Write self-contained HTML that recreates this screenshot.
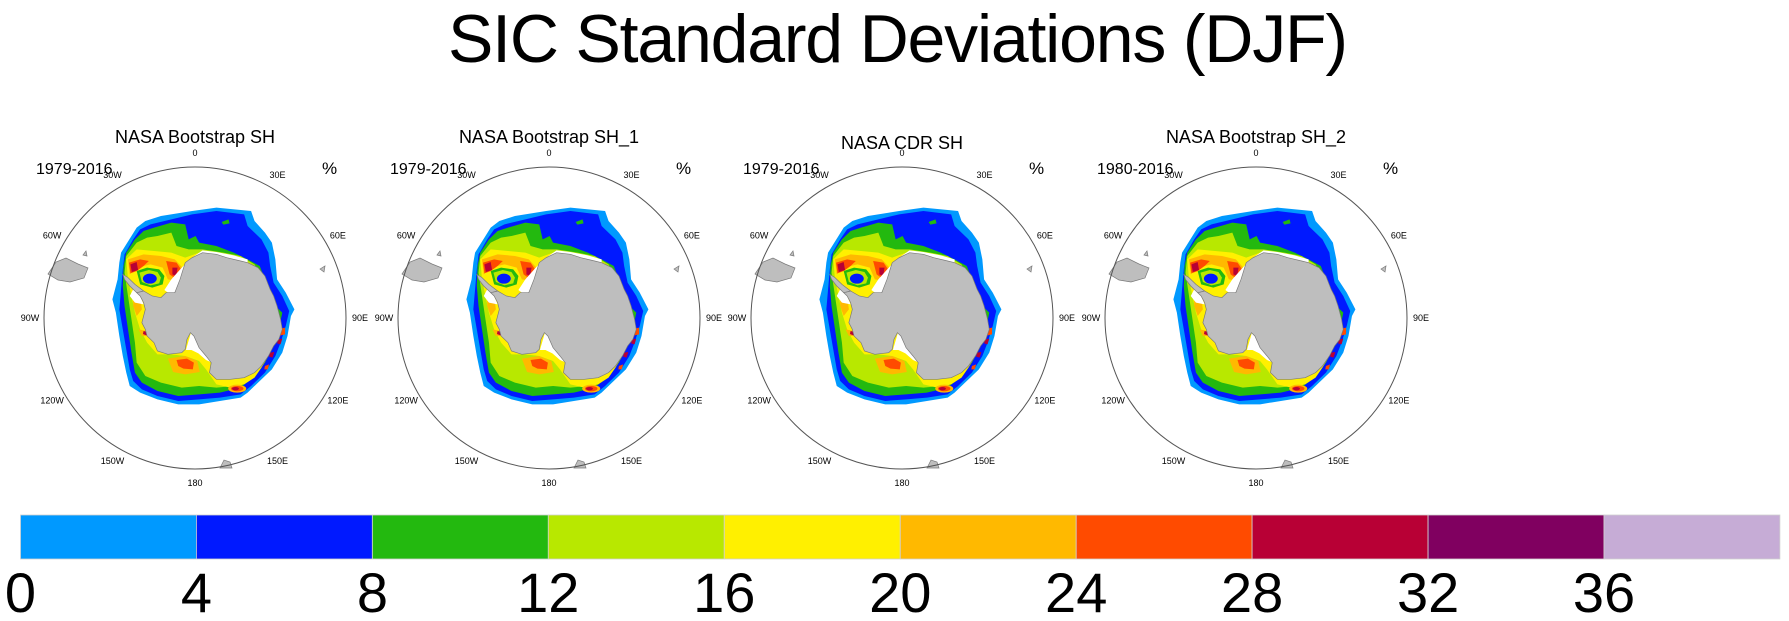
<!DOCTYPE html>
<html><head><meta charset="utf-8"><style>
html,body{margin:0;padding:0;background:#fff;}
svg{display:block;font-family:"Liberation Sans",Arial,sans-serif;}
</style></head><body>
<svg id="fig" width="1789" height="621" viewBox="0 0 1789 621" xmlns="http://www.w3.org/2000/svg">
<defs>
<g id="icefield">
 <g transform="translate(102 196) scale(0.3467 0.3333)">
  <path fill="#0099ff" d="M125,75 L170,60 260,45 330,35 430,45 440,75 470,110 490,140 500,190 505,250 530,290 555,340 545,360 535,420 520,470 490,520 450,560 420,590 400,605 340,615 280,625 220,625 160,610 110,590 80,570 70,530 60,480 50,420 40,350 30,310 45,250 50,200 55,170 85,120 100,95Z"/>
  <path fill="#0019ff" d="M140,85 L200,70 260,55 330,45 410,55 420,90 460,130 480,170 485,210 495,260 520,300 540,345 530,390 515,440 500,480 470,530 430,570 400,595 340,605 280,610 220,615 160,600 115,580 90,555 80,520 70,460 60,400 50,340 55,280 60,220 65,175 90,130 110,100Z"/>
  <path fill="#23b90f" d="M150,95 L200,80 240,85 250,130 270,120 280,140 330,150 380,170 420,190 455,210 470,250 480,300 500,330 520,350 510,400 495,450 470,500 440,540 400,575 340,590 280,595 220,600 160,585 115,560 95,530 85,470 75,400 65,330 60,270 62,210 70,170 95,130 120,105Z"/>
  <path fill="#b8e800" d="M160,120 L200,110 215,150 250,160 290,160 350,170 400,180 440,205 460,240 470,300 490,330 505,360 495,410 480,460 455,505 420,550 380,570 330,575 280,570 230,575 170,560 125,540 100,500 95,440 85,370 75,300 65,230 70,180 100,140 130,125Z"/>
  <path fill="#fff000" d="M70,190 L100,160 150,165 200,170 240,185 280,170 330,170 380,185 425,200 458,225 475,270 490,300 505,330 515,370 510,410 495,445 480,480 460,515 440,545 410,565 370,575 330,565 300,520 280,495 240,480 200,475 160,475 130,440 110,400 95,350 85,300 75,250Z"/>
  <path fill="#23b90f" d="M100,225 L130,215 165,220 180,240 175,265 145,275 110,265Z"/>
  <path fill="#b8e800" d="M108,230 L135,222 160,228 170,245 165,262 140,268 115,258Z"/>
  <ellipse cx="138" cy="248" rx="20" ry="15" fill="#0019ff"/>
  <path fill="#ffb900" d="M75,190 L120,175 170,180 210,190 232,215 222,255 190,250 175,215 140,205 100,215 80,235Z"/>
  <path fill="#ff4b00" d="M78,200 L110,190 135,195 120,210 100,225 82,232Z M185,195 L215,200 228,220 215,250 195,235Z"/>
  <path fill="#b80035" d="M82,205 L100,198 104,222 86,228Z M203,215 L218,215 214,240 203,235Z"/>
  <path fill="#ffb900" d="M190,488 L240,480 275,495 282,528 240,535 205,528Z"/>
  <path fill="#ff4b00" d="M215,492 L245,488 265,500 262,520 235,518 220,510Z"/>
  <ellipse cx="390" cy="578" rx="26" ry="12" fill="#ffb900"/>
  <ellipse cx="390" cy="578" rx="18" ry="8" fill="#ff4b00"/>
  <ellipse cx="385" cy="578" rx="10" ry="5" fill="#b80035"/>
  <path fill="#ffb900" d="M90,300 L110,300 115,340 100,360 90,330Z M105,400 L130,405 135,420 115,420Z"/>
  <path fill="#b80035" d="M88,295 L98,292 100,310 90,310Z M120,405 L132,408 128,418 118,414Z M508,430 L520,428 515,445 505,442Z M485,470 L497,468 492,485 482,482Z M482,295 L492,292 494,305 484,306Z"/>
  <path fill="#ff4b00" d="M515,398 L528,395 528,415 515,418Z M470,510 L482,505 478,520 468,520Z"/>
  <path fill="#23b90f" d="M345,78 L365,70 368,82 350,86Z"/>
  <path fill="#ffffff" d="M180,282 L200,250 230,215 260,185 290,163 330,168 380,178 420,190 420,200 360,185 300,175 262,195 240,222 222,262 205,302Z"/>
  <path fill="#ffffff" d="M258,405 L290,415 318,442 328,480 322,502 300,492 278,472 258,462 242,462Z"/>
  <path fill="#ffffff" d="M110,300 L120,285 90,280 80,300 95,320 120,325Z"/>
  <path fill="#bebebe" stroke="#7a7a7a" stroke-width="2" d="M240,200 L260,185 290,170 330,175 360,185 400,195 420,200 450,215 470,240 485,280 495,300 505,330 515,370 520,400 510,430 495,450 480,480 460,510 440,530 410,545 370,550 330,550 310,530 315,500 300,480 280,455 265,420 255,410 245,430 240,460 230,470 190,475 160,465 150,440 130,420 125,400 115,380 125,340 120,320 110,300 100,290 120,285 145,300 170,305 185,290 210,290 225,250Z"/>
  <path fill="#bebebe" stroke="#7a7a7a" stroke-width="2" d="M100,290 L80,270 65,250 60,235 75,245 95,265 120,285Z"/>
 </g>
 <path fill="#bebebe" stroke="#7a7a7a" stroke-width="0.7" d="M48,274 L56,262 66,258 78,264 88,268 84,278 70,282 58,280Z"/>
 <path fill="#bebebe" stroke="#7a7a7a" stroke-width="0.7" d="M83,255 L86,251 87,256Z"/>
 <path fill="#bebebe" stroke="#7a7a7a" stroke-width="0.7" d="M220,468 L224,460 230,462 232,468Z"/>
 <path fill="#bebebe" stroke="#7a7a7a" stroke-width="0.7" d="M320,269 L325,266 324,272Z"/>
</g>
</defs>
<text x="898" y="62" font-size="68" text-anchor="middle" textLength="900">SIC Standard Deviations (DJF)</text>
<g id="panels"></g>
<g id="colorbar"></g>
</svg>
<script>
const levels = [0,4,8,12,16,20,24,28,32,36];
const colors = ["#0099ff","#0019ff","#23b90f","#b8e800","#fff000","#ffb900","#ff4b00","#b80035","#800060","#c6acd6"];
const panelTitles = ["NASA Bootstrap SH","NASA Bootstrap SH_1","NASA CDR SH","NASA Bootstrap SH_2"];
const panelYears = ["1979-2016","1979-2016","1979-2016","1980-2016"];
const lonLabels = ["0","30E","60E","90E","120E","150E","180","150W","120W","90W","60W","30W"];

const NS="http://www.w3.org/2000/svg";
function mk(tag,attrs,parent){const e=document.createElementNS(NS,tag);for(const k in attrs)e.setAttribute(k,attrs[k]);parent.appendChild(e);return e;}
const panels=document.getElementById('panels');
const offsets=[0,354,707,1061];
panelTitles.forEach((t,i)=>{
  const g=mk('g',{transform:`translate(${offsets[i]} 0)`},panels);
  
  
  const cx=195, cy=318, r=151;
  const u=mk('use',{href:'#icefield'},g);
  
  
  const c=mk('circle',{cx:cx,cy:cy,r:r,fill:'none',stroke:'#555',"stroke-width":1},g);
  
  
  const tt=mk('text',{x:cx,y:(i===2?149:143),"font-size":18,"text-anchor":"middle"},g);
  tt.textContent=t;
  
  
  const yr=mk('text',{x:36,y:174,"font-size":16},g);
  yr.textContent=panelYears[i];
  
  
  const pc=mk('text',{x:322,y:174,"font-size":17},g);
  pc.textContent='%';
  
  
  lonLabels.forEach((l,k)=>{
    const a=k*30*Math.PI/180;
    const rr=165;
    const x=cx+rr*Math.sin(a), y=cy-rr*Math.cos(a)+3;
    const lt=mk('text',{x:x.toFixed(1),y:y.toFixed(1),"font-size":9,"text-anchor":"middle"},g);
    lt.textContent=l;
    
    
  });
});
const cb=document.getElementById('colorbar');
const x0=20.5, x1=1780, y0=515, h=44;
const w=(x1-x0)/colors.length;
colors.forEach((col,i)=>{
  const r=mk('rect',{x:(x0+i*w).toFixed(1),y:y0,width:w.toFixed(1),height:h,fill:col,stroke:'#d0d0d0',"stroke-width":0.8},cb);
  
  
});
levels.forEach((v,i)=>{
  const t=mk('text',{x:(x0+i*w).toFixed(1),y:612,"font-size":56,"text-anchor":"middle"},cb);
  t.textContent=v;
  
  
});
</script>
</body></html>
